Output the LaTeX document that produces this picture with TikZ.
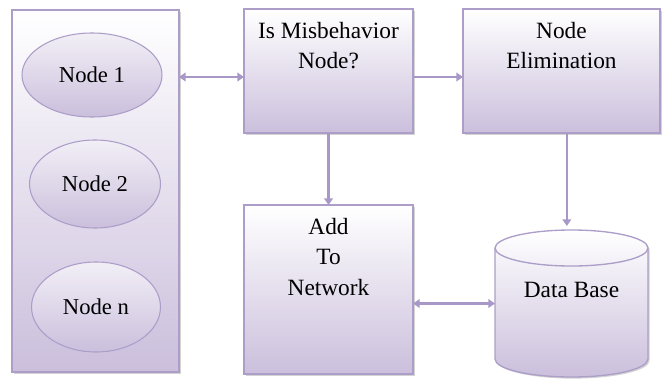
\documentclass[tikz,border=0pt]{standalone}
\usepackage{fontspec}
\setmainfont{Liberation Serif}
\usetikzlibrary{shapes.geometric,shadows,arrows.meta}
\definecolor{lavline}{RGB}{172,158,200}
\definecolor{lavfill}{RGB}{203,191,220}
\definecolor{lavarrow}{RGB}{168,152,200}

\begin{document}
\begin{tikzpicture}[x=0.75pt,y=-0.75pt,
    block/.style={draw=lavline,line width=1pt,inner sep=0pt,outer sep=0pt,
      top color=white,bottom color=lavfill,
      drop shadow={shadow xshift=1.2pt,shadow yshift=-1.2pt,opacity=0.35}},
    member/.style={ellipse,draw=lavline,line width=0.8pt,inner sep=0pt,
      top color=lavfill!25,bottom color=lavfill,font=\fontsize{17}{20}\selectfont},
    blocktext/.style={align=center,inner sep=0pt,anchor=north,
      font=\fontsize{17.5}{23}\selectfont},
    flow/.style={lavarrow,line width=1.6pt,-{Triangle[length=5pt,width=6.5pt]}},
    flowboth/.style={flow,{Triangle[length=5pt,width=6.5pt]}-{Triangle[length=5pt,width=6.5pt]}}]
  \useasboundingbox (0,0) rectangle (665,379);

  % node group on the left
  \node[block,minimum width=125.25pt,minimum height=271.5pt] (panel) at (95.5,191) {};
  \node[member,minimum width=105pt,minimum height=63pt] (node1) at (92,75) {Node 1};
  \node[member,minimum width=98.25pt,minimum height=66pt] (node2) at (95,184) {Node 2};
  \node[member,minimum width=96.75pt,minimum height=67.5pt] (noden) at (96,307) {Node n};

  % processing blocks
  \node[block,minimum width=126.75pt,minimum height=93pt] (misb) at (328.5,71) {};
  \node[blocktext] (misbtxt) at ([yshift=-9.5pt]misb.north) {Is Misbehavior\\Node?};
  \node[block,minimum width=147.75pt,minimum height=93pt] (elim) at (561.5,71) {};
  \node[blocktext] (elimtxt) at ([yshift=-9.5pt]elim.north) {Node\\Elimination};
  \node[block,minimum width=126.75pt,minimum height=126.75pt] (add) at (328.5,289.5) {};
  \node[blocktext] (addtxt) at ([yshift=-9.5pt]add.north) {Add\\To\\Network};

  % storage: frame node, then the drum drawn inside it
  \node[inner sep=0pt,outer sep=0pt,minimum width=114.75pt,minimum height=110.25pt] (db) at (571.5,303.5) {};
  \path[block] (495,248) -- (495,359) arc[start angle=180,end angle=0,x radius=76.5,y radius=18]
    -- (648,248) arc[start angle=0,end angle=-180,x radius=76.5,y radius=18] -- cycle;
  \draw[lavline,line width=1pt] (495,248) arc[start angle=180,end angle=0,x radius=76.5,y radius=18];
  \node[blocktext,anchor=center] (dbtxt) at ([yshift=10pt]db.center) {Data Base};

  % connectors
  \coordinate (linkin) at ([yshift=-4.5pt]misb.west);
  \draw[flowboth] (panel.east |- linkin) -- (linkin);
  \draw[flow] (misb.east |- linkin) -- (elim.west |- linkin);
  \draw[flow] (misb.south) -- (add.north);
  \draw[flow,shorten >=3pt] ([xshift=4pt]elim.south) -- ([xshift=4pt]elim.south |- db.north);
  \draw[flowboth] (add.east |- db.west) -- (db.west);
\end{tikzpicture}
\end{document}
